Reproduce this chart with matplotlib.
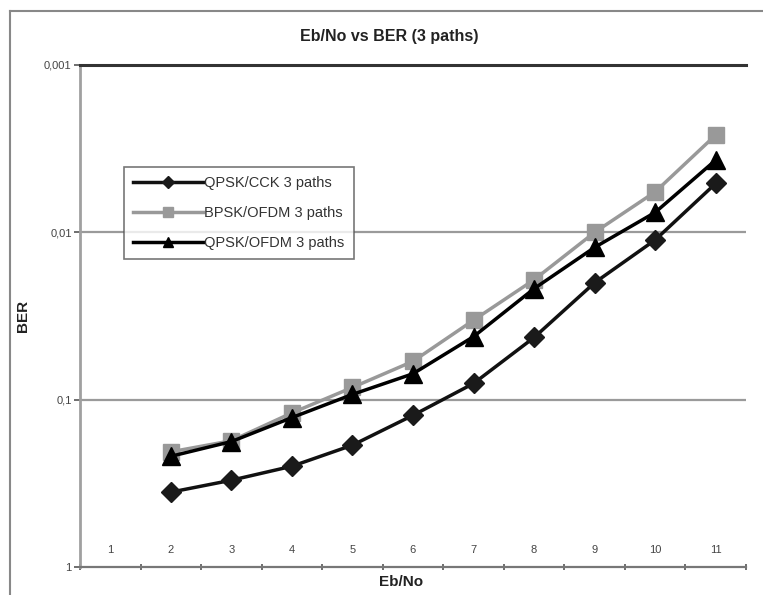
import matplotlib
matplotlib.use("Agg")
import matplotlib.pyplot as plt
from matplotlib.lines import Line2D
from matplotlib.ticker import FixedLocator, NullFormatter

plt.rcParams.update({
    "font.family": ["Liberation Sans", "DejaVu Sans"],
})

eb_no = [1, 2, 3, 4, 5, 6, 7, 8, 9, 10, 11]
x_data = [2, 3, 4, 5, 6, 7, 8, 9, 10, 11]
qpsk_cck = [0.357, 0.303, 0.25, 0.187, 0.124, 0.080, 0.0425, 0.020, 0.0111, 0.0051]
bpsk_ofdm = [0.205, 0.176, 0.120, 0.0845, 0.059, 0.0335, 0.0192, 0.0100, 0.00573, 0.00262]
qpsk_ofdm = [0.218, 0.178, 0.128, 0.093, 0.070, 0.042, 0.0217, 0.0123, 0.0076, 0.0037]
series_names = ["QPSK/CCK 3 paths", "BPSK/OFDM 3 paths", "QPSK/OFDM 3 paths"]
y_ticks = [1, 0.1, 0.01, 0.001]
y_tick_labels = ["1", "0,1", "0,01", "0,001"]

W, H = 763, 595
fig = plt.figure(figsize=(W / 100, H / 100), dpi=100)
ax = fig.add_axes([80 / W, 1 - 567 / H, (746 - 80) / W, (567 - 65) / H])

ax.set_yscale("log")
ax.set_ylim(1, 0.001)
ax.set_xlim(0.5, 11.5)

# grid lines at the decades (the top one is drawn by the spine)
for v in [0.1, 0.01]:
    ax.axhline(v, color="#9a9a9a", lw=1.6, zorder=1)

ax.plot(x_data, qpsk_cck, color="#111111", lw=2.5, marker="D", ms=10.5,
        mfc="#1a1a1a", mec="#1a1a1a", label=series_names[0], zorder=3)
ax.plot(x_data, bpsk_ofdm, color="#999999", lw=2.5, marker="s", ms=12,
        mfc="#999999", mec="#999999", label=series_names[1], zorder=3)
ax.plot(x_data, qpsk_ofdm, color="#000000", lw=2.5, marker="^", ms=13,
        mfc="#000000", mec="#000000", label=series_names[2], zorder=4)

# y axis
ax.yaxis.set_major_locator(FixedLocator(y_ticks))
ax.set_yticklabels(y_tick_labels)
ax.yaxis.set_minor_formatter(NullFormatter())
ax.tick_params(axis="y", which="minor", length=0)
ax.tick_params(axis="y", which="major", length=4, width=1.2, color="#555555",
               labelsize=8, labelcolor="#444444", pad=2)

# x axis: labels centred on categories, drawn above the axis line
ax.set_xticks(eb_no)
ax.set_xticklabels([str(v) for v in eb_no])
ax.tick_params(axis="x", which="major", length=0, pad=-16, labelsize=8,
               labelcolor="#444444")
ax.set_xticks([k + 0.5 for k in range(0, 12)], minor=True)
ax.tick_params(axis="x", which="minor", length=4, width=1.2, direction="inout",
               color="#555555")

ax.spines["right"].set_visible(False)
ax.spines["top"].set_color("#333333")
ax.spines["top"].set_linewidth(2.2)
ax.spines["left"].set_color("#a0a0a0")
ax.spines["left"].set_linewidth(2.0)
ax.spines["bottom"].set_color("#777777")
ax.spines["bottom"].set_linewidth(1.6)

leg = ax.legend(loc="upper left",
                bbox_to_anchor=((124 - 80) / (746 - 80), (567 - 167) / (567 - 65)),
                fontsize=10.5, frameon=True, fancybox=False, edgecolor="#555555",
                handlelength=4.8, handletextpad=0.12, borderpad=0.6,
                labelspacing=1.1, markerscale=0.6, borderaxespad=0)
leg.get_frame().set_linewidth(1.2)
for t in leg.get_texts():
    t.set_color("#333333")

fig.text(389 / W, 1 - 36 / H, "Eb/No vs BER (3 paths)", ha="center", va="center",
         fontsize=11.5, fontweight="bold", color="#222222")
fig.text(23 / W, 1 - 316 / H, "BER", ha="center", va="center", rotation=90,
         fontsize=11, fontweight="bold", color="#222222")
fig.text(401 / W, 1 - 582 / H, "Eb/No", ha="center", va="center",
         fontsize=11, fontweight="bold", color="#222222")

# outer chart-area border (left and top edges visible)
fig.add_artist(Line2D([10 / W, 10 / W], [0, 1 - 11 / H], color="#888888", lw=1.5))
fig.add_artist(Line2D([10 / W, 1], [1 - 11 / H, 1 - 11 / H], color="#888888", lw=1.5))

fig.savefig("out.png", dpi=100)
